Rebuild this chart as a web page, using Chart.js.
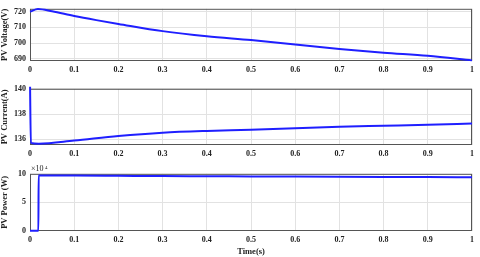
<!DOCTYPE html>
<html>
<head>
<meta charset="utf-8">
<script src="https://cdn.jsdelivr.net/npm/chart.js@4"></script>
<style>
  html, body { margin: 0; padding: 0; background: #fff; }
  #wrap { position: relative; width: 480px; height: 257px; }
  .panel { position: absolute; left: 0; width: 480px; }
</style>
</head>
<body>
<div id="wrap">
  <div class="panel" style="top:0;height:80px"><canvas id="vChart"></canvas></div>
  <div class="panel" style="top:80px;height:85px"><canvas id="iChart"></canvas></div>
  <div class="panel" style="top:165px;height:92px"><canvas id="pChart"></canvas></div>
</div>
<script>
// time axis ticks shared by all three plots
const xTicks = [0, 0.1, 0.2, 0.3, 0.4, 0.5, 0.6, 0.7, 0.8, 0.9, 1];

// PV voltage (V)
const vTime = [0, 0.018, 0.05, 0.1, 0.15, 0.2, 0.3, 0.4, 0.5, 0.6, 0.7, 0.8, 0.9, 1.0];
const vValues = [720, 721.7, 720.2, 717.2, 714.6, 712.2, 707.6, 704.3, 701.9, 699.1, 696.3, 693.9, 691.9, 689];
const vTicks = [690, 700, 710, 720];

// PV current (A)
const iTime = [0, 0.002, 0.02, 0.1, 0.2, 0.3, 0.4, 0.5, 0.6, 0.7, 0.8, 0.9, 1.0];
const iValues = [140.6, 135.72, 135.65, 135.9, 136.26, 136.52, 136.66, 136.75, 136.87, 136.99, 137.07, 137.15, 137.25];
const iTicks = [136, 138, 140];

// PV power (W)
const pTime = [0, 0.019, 0.0195, 0.1, 0.2, 0.3, 0.4, 0.5, 0.6, 0.7, 0.8, 0.9, 1.0];
const pValues = [0, 0, 97600, 97300, 96900, 96500, 96200, 95900, 95600, 95300, 95000, 94700, 94500];
const pTicks = [0, 50000, 100000];

const fontFamily = '"Liberation Serif", "Times New Roman", serif';
const lineColor = '#1f1fff';
const gridColor = '#e2e2e2';
const frameColor = '#555555';

Chart.defaults.font.family = fontFamily;
Chart.defaults.color = '#222';

// draws the box round the plot area (matlab style), under the curve
const framePlugin = {
    id: 'frame',
    beforeDatasetsDraw(chart, args, opts) {
        const a = chart.chartArea;
        const ctx = chart.ctx;
        ctx.save();
        ctx.strokeStyle = frameColor;
        ctx.lineWidth = 1;
        ctx.strokeRect(a.left + 0.5, a.top + 0.5, a.right - a.left - 1, a.bottom - a.top - 1);
        if (opts.exponent) {
            ctx.fillStyle = '#222';
            ctx.font = '8px ' + fontFamily;
            ctx.textBaseline = 'bottom';
            ctx.fillText('\u00d710', a.left + 1, a.top - 0.5);
            ctx.font = '5px ' + fontFamily;
            ctx.fillText('4', a.left + 15, a.top - 3.5);
        }
        ctx.restore();
    }
};

function makePoints(times, values) {
    return times.map((t, k) => ({ x: t, y: values[k] }));
}

function buildChart(id, cfg) {
    const ctx = document.getElementById(id).getContext('2d');
    return new Chart(ctx, {
        type: 'line',
        data: {
            datasets: [{
                data: makePoints(cfg.times, cfg.values),
                borderColor: lineColor,
                borderWidth: 2,
                pointRadius: 0,
                cubicInterpolationMode: 'monotone',
                fill: false,
                clip: 2
            }]
        },
        options: {
            responsive: true,
            maintainAspectRatio: false,
            animation: false,
            events: [],
            layout: { padding: { top: cfg.padTop, right: 8, left: 0, bottom: 0 } },
            plugins: {
                legend: { display: false },
                tooltip: { enabled: false },
                frame: { exponent: cfg.exponent || false }
            },
            scales: {
                x: {
                    type: 'linear',
                    min: 0,
                    max: 1,
                    afterBuildTicks: s => { s.ticks = xTicks.map(v => ({ value: v })); },
                    afterFit: s => { s.height = cfg.xHeight; },
                    grid: { color: gridColor, drawTicks: false },
                    border: { display: false },
                    ticks: {
                        padding: 4,
                        maxRotation: 0,
                        font: { size: 8, weight: 'bold' },
                        color: '#222',
                        callback: v => String(v)
                    },
                    title: {
                        display: !!cfg.xTitle,
                        text: cfg.xTitle || '',
                        padding: { top: 1, bottom: 0 },
                        font: { size: 8.5, weight: 'bold' },
                        color: '#222'
                    }
                },
                y: {
                    min: cfg.yMin,
                    max: cfg.yMax,
                    afterBuildTicks: s => { s.ticks = cfg.yTicks.map(v => ({ value: v })); },
                    afterFit: s => { s.width = 30; },
                    grid: { color: gridColor, drawTicks: false },
                    border: { display: false },
                    ticks: {
                        padding: 4,
                        font: { size: 8, weight: 'bold' },
                        color: '#222',
                        callback: cfg.tickFormat || (v => v)
                    },
                    title: {
                        display: true,
                        text: cfg.yTitle,
                        padding: { top: 0, bottom: 0 },
                        font: { size: 8.5, weight: 'bold' },
                        color: '#222'
                    }
                }
            }
        },
        plugins: [framePlugin]
    });
}

buildChart('vChart', {
    times: vTime, values: vValues, yTicks: vTicks,
    yMin: 688.6, yMax: 721.8, yTitle: 'PV Voltage(V)',
    padTop: 2, xHeight: 19
});

buildChart('iChart', {
    times: iTime, values: iValues, yTicks: iTicks,
    yMin: 135.55, yMax: 140, yTitle: 'PV Current(A)',
    padTop: 8, xHeight: 20
});

buildChart('pChart', {
    times: pTime, values: pValues, yTicks: pTicks,
    yMin: -500, yMax: 100500, yTitle: 'PV Power (W)',
    padTop: 8, xHeight: 26, xTitle: 'Time(s)', exponent: true,
    tickFormat: v => v / 10000
});
</script>
</body>
</html>
